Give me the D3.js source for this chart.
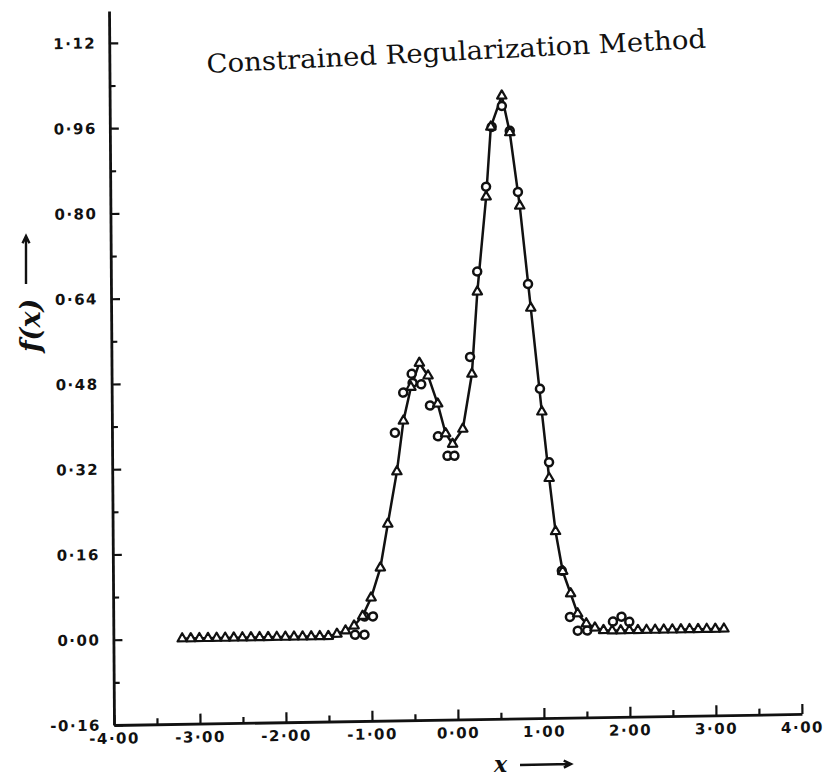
<!DOCTYPE html>
<html>
<head>
<meta charset="utf-8">
<script src="https://cdn.jsdelivr.net/npm/d3@7"></script>
<style>
  body { margin: 0; background: #fff; }
  .tick text { font-family: "DejaVu Sans", sans-serif; font-weight: bold; font-size: 15px; letter-spacing: 1.5px; fill: #111; }
</style>
</head>
<body>
<svg id="chart"></svg>
<script>
// axis ticks
const xTickValues = [-4, -3, -2, -1, 0, 1, 2, 3, 4];
const xTickLabels = ["-4·00", "-3·00", "-2·00", "-1·00", "0·00", "1·00", "2·00", "3·00", "4·00"];
const yTickValues = [-0.16, 0, 0.16, 0.32, 0.48, 0.64, 0.80, 0.96, 1.12];
const yTickLabels = ["-0·16", "0·00", "0·16", "0·32", "0·48", "0·64", "0·80", "0·96", "1·12"];

// exact function (triangles + solid line)
const trueX = [-3.2, -3.1, -3.0, -2.9, -2.8, -2.7, -2.6, -2.5, -2.4, -2.3, -2.2, -2.1, -2.0, -1.9, -1.8, -1.7, -1.6, -1.5, -1.4, -1.3,
  -1.2, -1.1, -1.0, -0.89, -0.8, -0.69, -0.61, -0.52, -0.42, -0.32, -0.21, -0.12, -0.04, 0.08, 0.19, 0.26, 0.37, 0.43, 0.56, 0.65,
  0.76, 0.88, 1.0, 1.08, 1.15, 1.23, 1.32, 1.4, 1.5, 1.6, 1.7,
  1.8, 1.9, 2.0, 2.1, 2.2, 2.3, 2.4, 2.5, 2.6, 2.7, 2.8, 2.9, 3.0, 3.1];
const trueY = [0, 0, 0, 0, 0, 0, 0, 0, 0, 0, 0, 0, 0, 0, 0, 0, 0, 0, 0.004, 0.01,
  0.019, 0.037, 0.071, 0.127, 0.209, 0.307, 0.402, 0.465, 0.51, 0.486, 0.433, 0.377, 0.357, 0.385, 0.488, 0.642, 0.82, 0.951, 1.009, 0.94,
  0.802, 0.61, 0.415, 0.29, 0.19, 0.115, 0.073, 0.035, 0.016, 0.008, 0.003,
  0.002, 0.002, 0.002, 0.002, 0.002, 0.002, 0.002, 0.002, 0.002, 0.002, 0.002, 0.002, 0.002, 0.002];

// regularized solution (circles)
const recX = [-1.19, -1.08, -1.08, -0.98, -0.71, -0.61, -0.51, -0.50, -0.40, -0.30, -0.21, -0.10, -0.02,
  0.17, 0.26, 0.37, 0.44, 0.56, 0.65, 0.74, 0.85, 0.98, 1.08, 1.22, 1.31, 1.40, 1.51, 1.81, 1.91, 2.00];
const recY = [0.002, 0.002, 0.036, 0.036, 0.380, 0.455, 0.490, 0.473, 0.470, 0.430, 0.372, 0.335, 0.335,
  0.520, 0.680, 0.839, 0.951, 0.990, 0.943, 0.828, 0.655, 0.458, 0.320, 0.116, 0.029, 0.003, 0.003, 0.019, 0.028, 0.018];

const width = 824, height = 780;
const svg = d3.select("#chart").attr("width", width).attr("height", height);
svg.append("rect").attr("width", width).attr("height", height).attr("fill", "#fff");

const x = d3.scaleLinear().domain([-4, 4]).range([114, 802]);
const y = d3.scaleLinear().domain([-0.16, 1.18]).range([725, 11]);

// the scanned figure is slightly skewed
const ox = x(-4), oy = y(-0.16);
const plot = svg.append("g")
  .attr("transform", `translate(${ox},${oy}) skewX(0.4) skewY(-0.92) translate(${-ox},${-oy})`);

// x axis
const xAxis = plot.append("g")
  .attr("transform", `translate(0,${oy})`)
  .call(d3.axisBottom(x).tickValues(xTickValues).tickSizeInner(-10).tickSizeOuter(0)
    .tickPadding(8).tickFormat((d, i) => xTickLabels[i]));
xAxis.select(".domain").attr("stroke", "#111").attr("stroke-width", 2.8);
xAxis.selectAll(".tick line").attr("stroke", "#111").attr("stroke-width", 2.2);

plot.append("g")
  .attr("transform", `translate(0,${oy})`)
  .call(d3.axisBottom(x).tickValues(d3.range(-3.5, 4, 1)).tickSize(-6).tickFormat(""))
  .call(g => g.select(".domain").remove())
  .selectAll(".tick line").attr("stroke", "#111").attr("stroke-width", 2.2);

// y axis
const yAxis = plot.append("g")
  .attr("transform", `translate(${ox},0)`)
  .call(d3.axisLeft(y).tickValues(yTickValues).tickSizeInner(-9).tickSizeOuter(0)
    .tickPadding(13).tickFormat((d, i) => yTickLabels[i]));
yAxis.select(".domain").attr("stroke", "#111").attr("stroke-width", 2.8);
yAxis.selectAll(".tick line").attr("stroke", "#111").attr("stroke-width", 2.2);

plot.append("g")
  .attr("transform", `translate(${ox},0)`)
  .call(d3.axisLeft(y).tickValues(d3.range(-0.08, 1.1, 0.16)).tickSize(-6).tickFormat(""))
  .call(g => g.select(".domain").remove())
  .selectAll(".tick line").attr("stroke", "#111").attr("stroke-width", 2.2);

// data
const trueData = trueX.map((d, i) => [d, trueY[i]]);
const recData = recX.map((d, i) => [d, recY[i]]);

const line = d3.line().x(d => x(d[0])).y(d => y(d[1]));
plot.append("path")
  .datum(trueData)
  .attr("d", line)
  .attr("fill", "none")
  .attr("stroke", "#111")
  .attr("stroke-width", 2.5)
  .attr("stroke-linejoin", "round");

plot.selectAll(".rec")
  .data(recData)
  .join("circle")
  .attr("class", "rec")
  .attr("cx", d => x(d[0]))
  .attr("cy", d => y(d[1]))
  .attr("r", 4)
  .attr("fill", "#fff")
  .attr("stroke", "#111")
  .attr("stroke-width", 2.5);

const tri = d3.symbol().type(d3.symbolTriangle).size(38);
plot.selectAll(".tru")
  .data(trueData)
  .join("path")
  .attr("class", "tru")
  .attr("transform", d => `translate(${x(d[0])},${y(d[1])})`)
  .attr("d", tri)
  .attr("fill", "#fff")
  .attr("stroke", "#111")
  .attr("stroke-width", 2.2)
  .attr("stroke-linejoin", "round");

// title
svg.append("text")
  .attr("x", 207)
  .attr("y", 73)
  .attr("transform", "rotate(-2.9,207,73)")
  .attr("font-family", "DejaVu Serif, serif")
  .attr("font-size", 26)
  .attr("textLength", 500)
  .attr("lengthAdjust", "spacingAndGlyphs")
  .attr("fill", "#111")
  .text("Constrained Regularization Method");

// axis names
function arrow(g, x1, y1, x2, y2) {
  const a = Math.atan2(y2 - y1, x2 - x1);
  const h = 8;
  g.append("path")
    .attr("d", `M${x1},${y1}L${x2},${y2}` +
      `M${x2 - h * Math.cos(a - 0.45)},${y2 - h * Math.sin(a - 0.45)}L${x2},${y2}` +
      `L${x2 - h * Math.cos(a + 0.45)},${y2 - h * Math.sin(a + 0.45)}`)
    .attr("fill", "none")
    .attr("stroke", "#111")
    .attr("stroke-width", 2.4);
}

svg.append("text")
  .attr("transform", "translate(40,352) rotate(-90)")
  .attr("font-family", "DejaVu Serif, serif")
  .attr("font-style", "italic")
  .attr("font-weight", "bold")
  .attr("font-size", 27)
  .attr("fill", "#111")
  .text("f(x)");
arrow(svg, 26, 284, 26, 236);

svg.append("text")
  .attr("x", 494)
  .attr("y", 772)
  .attr("font-family", "DejaVu Serif, serif")
  .attr("font-style", "italic")
  .attr("font-weight", "bold")
  .attr("font-size", 22)
  .attr("fill", "#111")
  .text("x");
arrow(svg, 520, 765, 571, 764);
</script>
</body>
</html>
